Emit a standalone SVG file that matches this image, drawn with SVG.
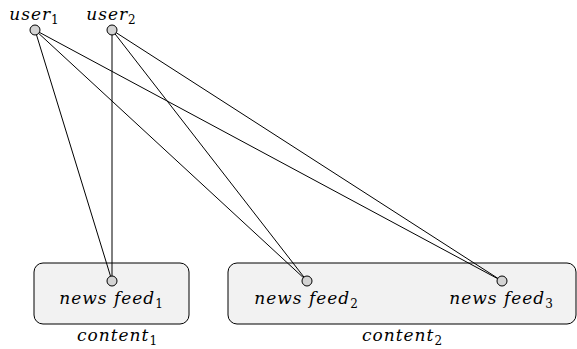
<svg xmlns="http://www.w3.org/2000/svg" width="577" height="349" viewBox="0 0 577 349">
  <style>
    .box { fill: #f2f2f2; stroke: #000; stroke-width: 1; }
    .dot { fill: #d3d3d3; stroke: #000; stroke-width: 1; }
    .edge { stroke: #000; stroke-width: 1; fill: none; }
    .lbl { font-family: 'DejaVu Serif', serif; font-style: italic; font-size: 17px; letter-spacing: 1px; fill: #000; text-anchor: middle; }
    .sub { font-style: normal; font-size: 12px; letter-spacing: 0; }
  </style>
  <rect width="577" height="349" fill="#fff"/>
  <g id="content1">
    <rect class="box" x="34" y="263" width="155" height="61" rx="9"/>
    <text class="lbl" x="117" y="341">content<tspan class="sub" dy="4">1</tspan></text>
  </g>
  <g id="content2">
    <rect class="box" x="228" y="263" width="348" height="61" rx="9"/>
    <text class="lbl" x="402" y="341">content<tspan class="sub" dy="4">2</tspan></text>
  </g>
  <g id="edges">
    <line class="edge" x1="35" y1="30" x2="112" y2="281"/>
    <line class="edge" x1="35" y1="30" x2="307" y2="281"/>
    <line class="edge" x1="35" y1="30" x2="502" y2="281"/>
    <line class="edge" x1="112" y1="30" x2="112" y2="281"/>
    <line class="edge" x1="112" y1="30" x2="307" y2="281"/>
    <line class="edge" x1="112" y1="30" x2="502" y2="281"/>
  </g>
  <g id="user1">
    <circle class="dot" cx="35" cy="30" r="5"/>
    <text class="lbl" x="34" y="20">user<tspan class="sub" dy="4">1</tspan></text>
  </g>
  <g id="user2">
    <circle class="dot" cx="112" cy="30" r="5"/>
    <text class="lbl" x="111" y="20">user<tspan class="sub" dy="4">2</tspan></text>
  </g>
  <g id="newsfeed1">
    <circle class="dot" cx="112" cy="281" r="5"/>
    <text class="lbl" x="111" y="304">news feed<tspan class="sub" dy="4">1</tspan></text>
  </g>
  <g id="newsfeed2">
    <circle class="dot" cx="307" cy="281" r="5"/>
    <text class="lbl" x="306" y="304">news feed<tspan class="sub" dy="4">2</tspan></text>
  </g>
  <g id="newsfeed3">
    <circle class="dot" cx="502" cy="281" r="5"/>
    <text class="lbl" x="501" y="304">news feed<tspan class="sub" dy="4">3</tspan></text>
  </g>
</svg>
